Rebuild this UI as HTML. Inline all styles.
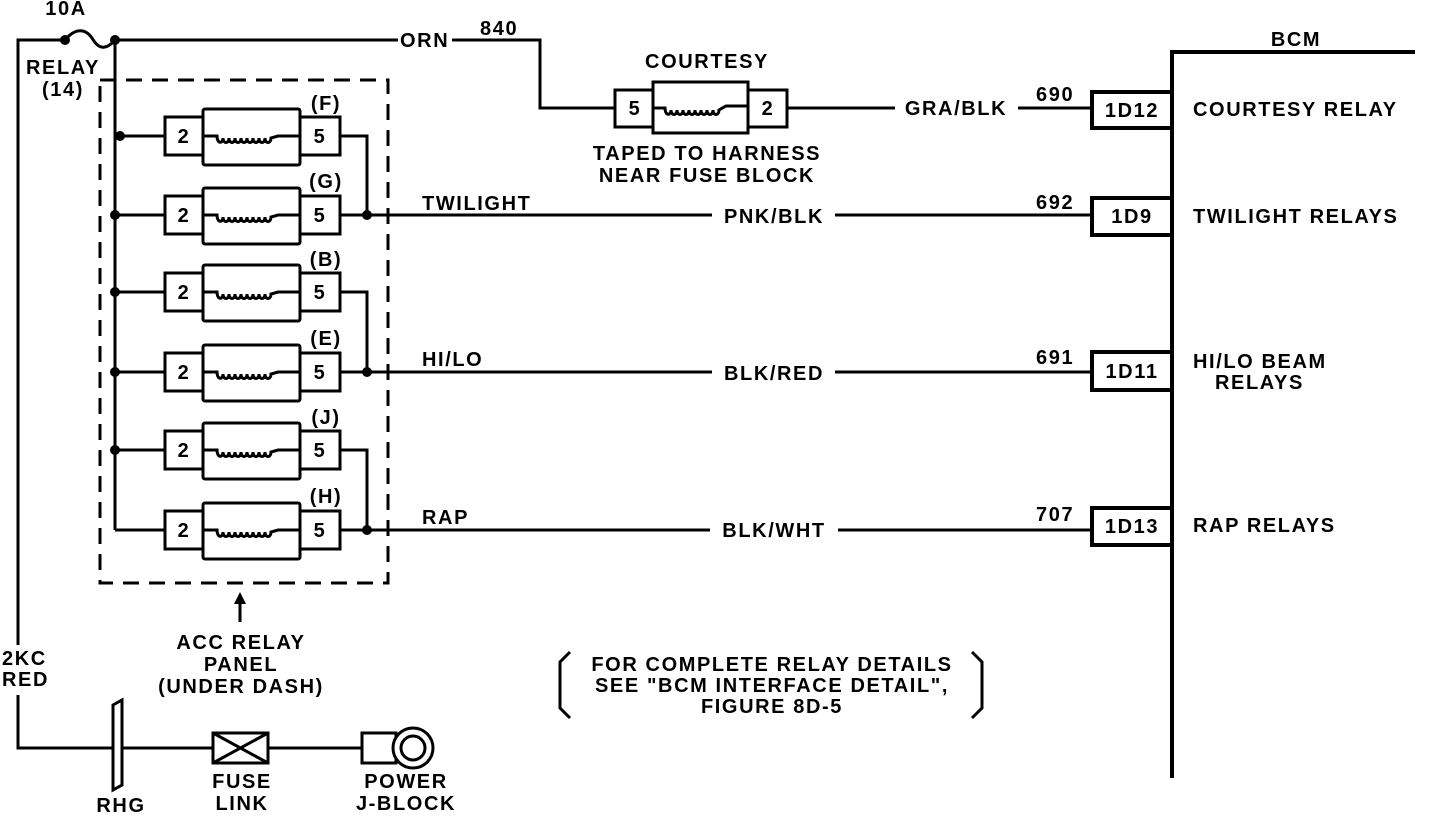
<!DOCTYPE html>
<html><head><meta charset="utf-8"><style>
html,body{margin:0;padding:0;background:#fff;width:1440px;height:818px;overflow:hidden}
svg text{font-family:"Liberation Sans",sans-serif;font-weight:bold;font-size:20px;letter-spacing:1.6px;fill:#000}
</style></head><body>
<svg width="1440" height="818" viewBox="0 0 1440 818" xmlns="http://www.w3.org/2000/svg">
<g stroke="#000" stroke-width="3" fill="none">
<polyline points="65,40 18,40 18,645"/>
<polyline points="18,695 18,748 213,748"/>
<path d="M65,40 C75,28 85,28 92,38 C100,52 108,48 115,40"/>
<line x1="115" y1="40" x2="398" y2="40"/>
<polyline points="452,40 540,40 540,108 615,108"/>
<line x1="115" y1="40" x2="115" y2="530"/>
<line x1="115" y1="530" x2="165" y2="530"/>
<rect x="100" y="80" width="288" height="503" stroke-dasharray="16,10"/>
<polyline points="340,136 367,136 367,215"/>
<polyline points="340,292 367,292 367,372"/>
<polyline points="340,450 367,450 367,530"/>
<line x1="340" y1="215" x2="712" y2="215"/><line x1="835" y1="215" x2="1090" y2="215"/>
<line x1="340" y1="372" x2="712" y2="372"/><line x1="835" y1="372" x2="1090" y2="372"/>
<line x1="340" y1="530" x2="710" y2="530"/><line x1="838" y1="530" x2="1090" y2="530"/>
<line x1="787" y1="108" x2="895" y2="108"/><line x1="1018" y1="108" x2="1090" y2="108"/>
<line x1="268" y1="748" x2="362" y2="748"/>
<polygon points="113,705 122,700 122,785 113,790" fill="#fff"/>
<rect x="213" y="733" width="55" height="30" fill="#fff"/>
<line x1="213" y1="733" x2="268" y2="763"/><line x1="268" y1="733" x2="213" y2="763"/>
<rect x="362" y="733" width="34" height="30" fill="#fff"/>
<circle cx="413" cy="748" r="20" fill="#fff"/><circle cx="413" cy="748" r="12"/>
<line x1="240" y1="622" x2="240" y2="600"/>
<path d="M570,652 L560,662 L560,708 L570,718"/>
<path d="M972,652 L982,662 L982,708 L972,718"/>
</g>
<polygon points="240,592 234,604 246,604" fill="#000"/>
<g stroke="#000" stroke-width="4" fill="none">
<polyline points="1172,778 1172,52 1415,52"/>
<polyline points="1172,92 1092,92 1092,128 1172,128"/>
<polyline points="1172,198 1092,198 1092,235 1172,235"/>
<polyline points="1172,352 1092,352 1092,390 1172,390"/>
<polyline points="1172,508 1092,508 1092,545 1172,545"/>
</g>
<g fill="#000">
<circle cx="65" cy="40" r="5"/><circle cx="115" cy="40" r="5"/>
<circle cx="120" cy="136" r="5"/><circle cx="115" cy="215" r="5"/><circle cx="115" cy="292" r="5"/>
<circle cx="115" cy="372" r="5"/><circle cx="115" cy="450" r="5"/>
<circle cx="367" cy="215" r="5"/><circle cx="367" cy="372" r="5"/><circle cx="367" cy="530" r="5"/>
</g>
<defs>
<g id="relay" stroke="#000" stroke-width="3" fill="#fff">
<rect x="203" y="-27" width="97" height="56" rx="2"/>
<rect x="165" y="-19" width="38" height="38"/>
<rect x="300" y="-19" width="40" height="38"/>
<path d="M115,0 H165 M203,0 H217 C217,8 223,8 223,2 C223,8 229,8 229,2 C229,8 235,8 235,2 C235,8 241,8 241,2 C241,8 247,8 247,2 C247,8 253,8 253,2 C253,8 259,8 259,2 C259,8 265,8 265,2 C265,8 271,8 271,2 L278,0 H300" fill="none"/>
</g>
</defs>
<use href="#relay" y="136"/><use href="#relay" y="215"/><use href="#relay" y="292"/>
<use href="#relay" y="372"/><use href="#relay" y="450"/><use href="#relay" y="530"/>
<g text-anchor="middle">
<text x="184" y="143">2</text><text x="320" y="143">5</text><text x="326" y="110" font-size="18">(F)</text>
<text x="184" y="222">2</text><text x="320" y="222">5</text><text x="326" y="188" font-size="18">(G)</text>
<text x="184" y="299">2</text><text x="320" y="299">5</text><text x="326" y="266" font-size="18">(B)</text>
<text x="184" y="379">2</text><text x="320" y="379">5</text><text x="326" y="345" font-size="18">(E)</text>
<text x="184" y="457">2</text><text x="320" y="457">5</text><text x="326" y="424" font-size="18">(J)</text>
<text x="184" y="537">2</text><text x="320" y="537">5</text><text x="326" y="503" font-size="18">(H)</text>
</g>
<g stroke="#000" stroke-width="3" fill="#fff">
<rect x="653" y="82" width="95" height="51"/>
<rect x="615" y="90" width="38" height="37"/>
<rect x="748" y="90" width="39" height="37"/>
<path d="M653,108 H665 C665,116 671,116 671,110 C671,116 677,116 677,110 C677,116 683,116 683,110 C683,116 689,116 689,110 C689,116 695,116 695,110 C695,116 701,116 701,110 C701,116 707,116 707,110 C707,116 713,116 713,110 C713,116 719,116 719,110 L726,106 H748" fill="none"/>
</g>
<g text-anchor="middle">
<text x="635" y="115">5</text><text x="768" y="115">2</text>
<text x="707" y="68">COURTESY</text>
<text x="707" y="160">TAPED TO HARNESS</text>
<text x="707" y="182">NEAR FUSE BLOCK</text>
<text x="1132" y="117">1D12</text><text x="1132" y="223">1D9</text>
<text x="1132" y="378">1D11</text><text x="1132" y="533">1D13</text>
<text x="1296" y="46" font-size="22">BCM</text>
<text x="241" y="649">ACC RELAY</text><text x="241" y="671">PANEL</text><text x="241" y="693">(UNDER DASH)</text>
<text x="772" y="671">FOR COMPLETE RELAY DETAILS</text>
<text x="772" y="692">SEE "BCM INTERFACE DETAIL",</text>
<text x="772" y="713">FIGURE 8D-5</text>
<text x="121" y="812">RHG</text>
<text x="242" y="788">FUSE</text><text x="242" y="810">LINK</text>
<text x="406" y="788">POWER</text><text x="406" y="810">J-BLOCK</text>
<text x="66" y="15" font-size="17">10A</text>
<text x="774" y="223">PNK/BLK</text><text x="774" y="380">BLK/RED</text><text x="774" y="537">BLK/WHT</text>
<text x="956" y="115">GRA/BLK</text>
</g>
<text x="26" y="74">RELAY</text><text x="42" y="96">(14)</text>
<text x="2" y="665">2KC</text><text x="2" y="686">RED</text>
<text x="400" y="47">ORN</text><text x="480" y="35" font-size="17">840</text>
<text x="422" y="210">TWILIGHT</text><text x="422" y="366">HI/LO</text><text x="422" y="524">RAP</text>
<text x="1036" y="101" font-size="17">690</text><text x="1036" y="209" font-size="17">692</text>
<text x="1036" y="364" font-size="17">691</text><text x="1036" y="521" font-size="17">707</text>
<text x="1193" y="116">COURTESY RELAY</text><text x="1193" y="223">TWILIGHT RELAYS</text>
<text x="1193" y="368">HI/LO BEAM</text><text x="1215" y="389">RELAYS</text>
<text x="1193" y="532">RAP RELAYS</text>
</svg>
</body></html>
